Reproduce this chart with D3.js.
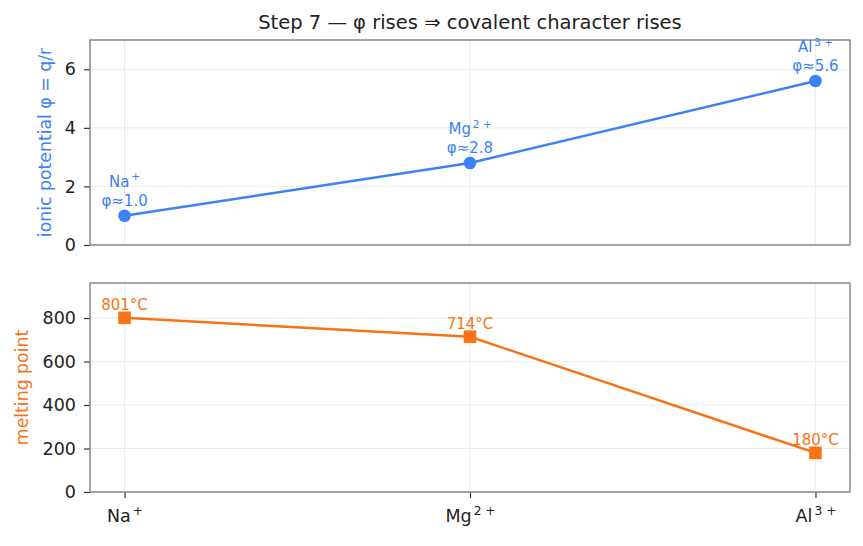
<!DOCTYPE html>
<html>
<head>
<meta charset="utf-8">
<script src="https://cdn.jsdelivr.net/npm/d3@7"></script>
<style>
  body { margin: 0; background: #fff; }
  svg { font-family: "DejaVu Sans", sans-serif; }
</style>
</head>
<body>
<svg width="863" height="546"></svg>
<script>
// ions along the x axis: base symbol + charge superscript
var ions = ["Na", "Mg", "Al"];
var charges = ["+", "2 +", "3 +"];
var phi = [1.0, 2.8, 5.6];
var meltPoints = [801, 714, 180];
var phiTicks = [0, 2, 4, 6];
var meltTicks = [0, 200, 400, 600, 800];

var blue = "#3b82f6", orange = "#f97316";
var spineColor = "#808080", gridColor = "#e6e6e6";

var svg = d3.select("svg");
var left = 90, right = 850;

var x = d3.scaleLinear().domain([-0.1, 2.1]).range([left, right]);
var yTop = d3.scaleLinear().domain([0, 7]).range([245, 40]);
var yBot = d3.scaleLinear().domain([0, d3.max(meltPoints) * 1.2]).range([492, 283]);

svg.append("text")
  .attr("x", (left + right) / 2).attr("y", 29)
  .attr("text-anchor", "middle")
  .attr("font-size", 19.5).attr("fill", "#222")
  .text("Step 7 — φ rises ⇒ covalent character rises");

function ionLabel(sel, i, size) {
  sel.append("tspan").text(ions[i]);
  sel.append("tspan").attr("dx", size * 0.12).attr("dy", -size * 0.42)
    .attr("font-size", size * 0.7).attr("xml:space", "preserve").text(charges[i]);
}

function panel(y, ticks, values, color, shape, ylabel, labelX, showXLabels) {
  var g = svg.append("g");
  // grid
  g.selectAll(".hg").data(ticks).enter().append("line")
    .attr("x1", left).attr("x2", right)
    .attr("y1", d => y(d)).attr("y2", d => y(d))
    .attr("stroke", gridColor).attr("stroke-width", 0.8);
  g.selectAll(".vg").data(ions).enter().append("line")
    .attr("x1", (d, i) => x(i)).attr("x2", (d, i) => x(i))
    .attr("y1", y.range()[0]).attr("y2", y.range()[1])
    .attr("stroke", gridColor).attr("stroke-width", 0.8);

  // y axis
  var ya = g.append("g").attr("transform", "translate(" + left + ",0)")
    .call(d3.axisLeft(y).tickValues(ticks).tickFormat(d3.format("d")).tickSize(6).tickPadding(8));
  ya.select(".domain").remove();
  ya.selectAll(".tick line").attr("stroke", "#333").attr("stroke-width", 1.2);
  ya.selectAll(".tick text").attr("font-size", 17.5).attr("fill", "#222")
    .attr("font-family", "DejaVu Sans, sans-serif");

  // x axis
  var xa = g.append("g").attr("transform", "translate(0," + y.range()[0] + ")")
    .call(d3.axisBottom(x).tickValues([0, 1, 2]).tickSize(showXLabels ? 6 : 0).tickFormat(""));
  xa.select(".domain").remove();
  xa.selectAll(".tick line").attr("stroke", "#333").attr("stroke-width", 1.2);
  if (showXLabels) {
    xa.selectAll(".tick").each(function(d) {
      var t = d3.select(this).append("text")
        .attr("y", 30).attr("text-anchor", "middle")
        .attr("font-size", 17.5).attr("fill", "#222")
        .attr("font-family", "DejaVu Sans, sans-serif");
      ionLabel(t, d, 17.5);
    });
  }

  // spines
  g.append("rect")
    .attr("x", left).attr("y", y.range()[1])
    .attr("width", right - left).attr("height", y.range()[0] - y.range()[1])
    .attr("fill", "none").attr("stroke", spineColor).attr("stroke-width", 1.4);

  // line
  g.append("path")
    .datum(values)
    .attr("d", d3.line().x((d, i) => x(i)).y(d => y(d)))
    .attr("fill", "none").attr("stroke", color).attr("stroke-width", 2.5);

  // markers
  if (shape === "circle") {
    g.selectAll(".m").data(values).enter().append("circle")
      .attr("cx", (d, i) => x(i)).attr("cy", d => y(d)).attr("r", 6.3)
      .attr("fill", color);
  } else {
    g.selectAll(".m").data(values).enter().append("rect")
      .attr("x", (d, i) => x(i) - 6.3).attr("y", d => y(d) - 6.3)
      .attr("width", 12.6).attr("height", 12.6)
      .attr("fill", color);
  }

  // y label
  svg.append("text")
    .attr("transform", "translate(" + labelX + "," + (y.range()[0] + y.range()[1]) / 2 + ") rotate(-90)")
    .attr("text-anchor", "middle").attr("font-size", 17.3).attr("fill", color)
    .text(ylabel);
  return g;
}

var gTop = panel(yTop, phiTicks, phi, blue, "circle", "ionic potential φ = q/r", 51, false);
var gBot = panel(yBot, meltTicks, meltPoints, orange, "square", "melting point", 28, true);

// annotations
phi.forEach(function(v, i) {
  var t = gTop.append("text")
    .attr("x", x(i)).attr("y", yTop(v) - 29)
    .attr("text-anchor", "middle").attr("font-size", 15).attr("fill", blue);
  ionLabel(t, i, 15);
  gTop.append("text")
    .attr("x", x(i)).attr("y", yTop(v) - 10)
    .attr("text-anchor", "middle").attr("font-size", 15).attr("fill", blue)
    .text("φ≈" + v.toFixed(1));
});
meltPoints.forEach(function(v, i) {
  gBot.append("text")
    .attr("x", x(i)).attr("y", yBot(v) - 8)
    .attr("text-anchor", "middle").attr("font-size", 15).attr("fill", orange)
    .text(v + "°C");
});
</script>
</body>
</html>
